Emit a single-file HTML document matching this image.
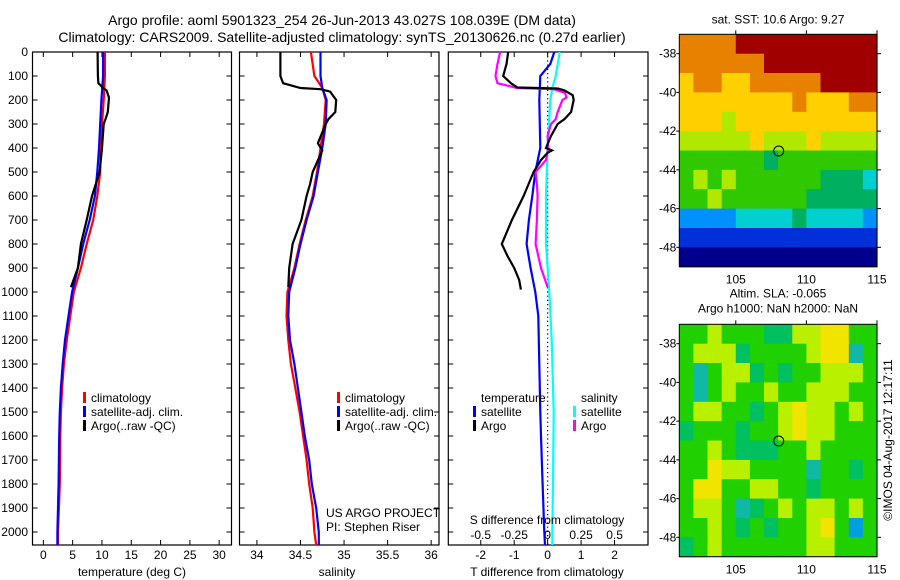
<!DOCTYPE html>
<html><head><meta charset="utf-8"><style>
body{margin:0;background:#fff;}
svg{display:block;font-family:"Liberation Sans",sans-serif;}
text{fill:#000;}
</style></head><body>
<svg id="fig" width="900" height="580" xmlns="http://www.w3.org/2000/svg">
<text x="342" y="25" font-size="14" text-anchor="middle">Argo profile: aoml 5901323_254 26-Jun-2013 43.027S 108.039E (DM data)</text>
<text x="342" y="42" font-size="14" text-anchor="middle">Climatology: CARS2009. Satellite-adjusted climatology: synTS_20130626.nc (0.27d earlier)</text>
</svg>
<script>
// ---- profile data ----
const tDepthClim = [0,100,200,300,400,500,600,700,800,900,1000,1100,1200,1300,1400,1500,1600,1800,2000,2054];
const tempClim   = [10.5,10.5,10.3,10.0,9.8,9.7,9.2,8.5,7.4,6.4,5.2,4.6,4.0,3.5,3.2,3.0,2.9,2.8,2.5,2.5];
const tempSat    = [10.2,10.2,9.9,9.7,9.5,9.2,8.8,7.9,6.8,5.9,4.9,4.3,3.7,3.3,3.0,2.8,2.7,2.6,2.4,2.4];
const argoDepth  = [0,100,130,150,160,190,250,280,300,400,500,600,700,800,900,980];
const tempArgo   = [9.25,9.3,9.4,10.2,10.8,11.2,11.0,10.6,10.3,10.0,9.6,8.3,7.4,6.4,5.9,4.7];
const sDepth     = [0,100,150,200,300,400,500,600,700,800,900,1000,1100,1200,1300,1400,1500,1600,1700,1800,1900,2000,2054];
const salClim    = [34.62,34.66,34.75,34.79,34.77,34.73,34.69,34.64,34.56,34.49,34.43,34.35,34.34,34.36,34.39,34.44,34.49,34.53,34.57,34.60,34.64,34.66,34.68];
const salSat     = [34.73,34.73,34.75,34.80,34.79,34.75,34.70,34.65,34.57,34.50,34.44,34.37,34.36,34.38,34.43,34.47,34.51,34.55,34.60,34.63,34.68,34.71,34.71];
const sArgoDepth = [0,100,130,150,155,165,200,250,280,300,380,410,500,550,600,700,800,900,980];
const salArgo    = [34.27,34.27,34.30,34.5,34.73,34.84,34.91,34.90,34.82,34.79,34.70,34.75,34.64,34.61,34.57,34.51,34.41,34.37,34.36];
// differences
const dSatDepth  = [0,50,100,200,400,500,600,700,800,900,1000,1100,1300,1500,1600,1800,2000,2054];
const dTSat      = [0.2,0.08,-0.22,-0.25,-0.22,-0.37,-0.46,-0.56,-0.63,-0.51,-0.37,-0.28,-0.25,-0.22,-0.2,-0.15,-0.1,-0.08];
const dSDepth    = [0,100,150,200,400,600,800,1000,1200,1500,1800,2000,2054];
const dSSat      = [0.09,0.06,0.035,0.02,0,-0.012,-0.012,0.012,0.03,0.045,0.04,0.035,0.035];
const dArgoDepthS= [0,50,100,130,150,155,170,190,200,250,280,300,350,400,450,500,550,600,700,800,850,900,980];
const dSArgo     = [-0.355,-0.375,-0.39,-0.375,-0.23,0.045,0.13,0.14,0.11,0.075,0.06,0.025,0,0.005,-0.012,-0.09,-0.08,-0.075,-0.08,-0.09,-0.07,-0.05,0];
const dArgoDepthT= [0,50,100,130,148,152,160,180,200,250,280,300,350,400,410,420,450,500,550,600,700,800,850,900,950,990];
const dTArgo     = [-1.18,-1.23,-1.33,-1.1,-0.9,0.3,0.5,0.75,0.78,0.7,0.5,0.3,0.1,-0.05,0.13,0.0,-0.2,-0.42,-0.57,-0.72,-1.07,-1.37,-1.2,-1.0,-0.85,-0.8];
// axis ticks
const depthTicks = [0,100,200,300,400,500,600,700,800,900,1000,1100,1200,1300,1400,1500,1600,1700,1800,1900,2000];
const tempTicks  = [0,5,10,15,20,25,30];
const salTicks   = [34,34.5,35,35.5,36];
const tdTicks    = [-2,-1,0,1,2];
const sdTicks    = [-0.5,-0.25,0,0.25,0.5];
const sdTickLabels = ["-0.5","-0.25","0","0.25","0.5"];
const lonTicks   = [105,110,115];
const latTicks   = [-38,-40,-42,-44,-46,-48];
// ---- map data (rows lat -37 .. -49, cols lon 101 .. 115, 1-degree cells, colour index 0-9) ----
const sstRows = [
"88889999999999",
"88888899999999",
"78877888889999",
"77777777877788",
"77767777777777",
"66666766676666",
"55555545555555",
"56565555554443",
"55655555544444",
"22223333433332",
"11111111111111",
"00000000000000"];
const slaRows = [
"55655544667755",
"56664555567735",
"53566454556665",
"53565565566655",
"56655456766565",
"45554556766555",
"55654445565555",
"55766555535545",
"57755665545555",
"56653456566565",
"55654545567525",
"45655555566555"];
const argoLon = 108.039, argoLat = -43.027;

const NS="http://www.w3.org/2000/svg";
const svg=document.getElementById('fig');
function el(tag,attrs,parent){const e=document.createElementNS(NS,tag);for(const k in attrs)e.setAttribute(k,attrs[k]);(parent||svg).appendChild(e);return e;}
function txt(x,y,s,attrs,parent){const e=el('text',Object.assign({x:x,y:y,'font-size':12},attrs||{}),parent);e.textContent=s;return e;}

const PT=52, PB=545;
const yD=d=>PT+d*0.24;
function panel(name,x0,x1,xmin,xmax){
  const g=el('g',{});
  
  
  const xs=v=>x0+(v-xmin)/(xmax-xmin)*(x1-x0);
  el('rect',{x:x0,y:PT,width:x1-x0,height:PB-PT,fill:'#fff',stroke:'#000','stroke-width':1.2},g);
  depthTicks.forEach(d=>{el('line',{x1:x0,x2:x0+5,y1:yD(d),y2:yD(d),stroke:'#000'},g);el('line',{x1:x1-5,x2:x1,y1:yD(d),y2:yD(d),stroke:'#000'},g);});
  return {g,xs,x0,x1};
}
function line(g,xs,vals,depths,color,name,w){
  const p=vals.map((v,i)=>xs(v).toFixed(1)+','+yD(depths[i]).toFixed(1)).join(' ');
  const e=el('polyline',{points:p,fill:'none',stroke:color,'stroke-width':w||2.2},g);
  
  
}
function legend(g,x,y,items){
  items.forEach((it,i)=>{el('rect',{x:x,y:y+i*14-10,width:3,height:11,fill:it[1]},g);txt(x+8,y+i*14,it[0],{},g);});
}

// Panel 1 temperature
const p1=panel('temperature-panel',32.5,231.5,-1.85,32.1);
depthTicks.forEach(d=>{const t=txt(28,yD(d)+4,String(d),{'text-anchor':'end'});});
tempTicks.forEach(v=>{const x=p1.xs(v);el('line',{x1:x,x2:x,y1:PB,y2:PB-5,stroke:'#000'},p1.g);el('line',{x1:x,x2:x,y1:PT,y2:PT+5,stroke:'#000'},p1.g);txt(x,559,String(v),{'text-anchor':'middle'},p1.g);});
txt(132,576,'temperature (deg C)',{'text-anchor':'middle',});
line(p1.g,p1.xs,tempClim,tDepthClim,'#f00','temp-climatology-line');
line(p1.g,p1.xs,tempSat,tDepthClim,'#00f','temp-satellite-line');
line(p1.g,p1.xs,tempArgo,argoDepth,'#000','temp-argo-line');
legend(p1.g,83,402,[['climatology','#f00'],['satellite-adj. clim.','#00f'],['Argo(..raw -QC)','#000']]);

// Panel 2 salinity
const p2=panel('salinity-panel',239.5,439,33.8,36.09);
salTicks.forEach(v=>{const x=p2.xs(v);el('line',{x1:x,x2:x,y1:PB,y2:PB-5,stroke:'#000'},p2.g);el('line',{x1:x,x2:x,y1:PT,y2:PT+5,stroke:'#000'},p2.g);txt(x,559,String(v),{'text-anchor':'middle'},p2.g);});
txt(337,576,'salinity',{'text-anchor':'middle',});
line(p2.g,p2.xs,salClim,sDepth,'#f00','sal-climatology-line');
line(p2.g,p2.xs,salSat,sDepth,'#00f','sal-satellite-line');
line(p2.g,p2.xs,salArgo,sArgoDepth,'#000','sal-argo-line');
legend(p2.g,337,402,[['climatology','#f00'],['satellite-adj. clim.','#00f'],['Argo(..raw -QC)','#000']]);
txt(326,517,'US ARGO PROJECT',{},p2.g);
txt(326,531,'PI: Stephen Riser',{},p2.g);

// Panel 3 differences
const p3=panel('difference-panel',448.3,648,-2.97,3.0);
const xsS=v=>p3.xs(v*4);
el('line',{x1:p3.xs(0),x2:p3.xs(0),y1:PT,y2:PB,stroke:'#000','stroke-dasharray':'1.2,3','stroke-width':1.2},p3.g);
tdTicks.forEach(v=>{const x=p3.xs(v);el('line',{x1:x,x2:x,y1:PB,y2:PB-5,stroke:'#000'},p3.g);el('line',{x1:x,x2:x,y1:PT,y2:PT+5,stroke:'#000'},p3.g);txt(x,559,String(v),{'text-anchor':'middle'},p3.g);});
sdTicks.forEach((v,i)=>{txt(xsS(v),539,sdTickLabels[i],{'text-anchor':'middle'},p3.g);});
txt(547,524,'S difference from climatology',{'text-anchor':'middle',});
txt(547,576,'T difference from climatology',{'text-anchor':'middle',});
line(p3.g,p3.xs,dTSat,dSatDepth,'#00f','dt-satellite-line');
line(p3.g,xsS,dSSat,dSDepth,'#0ff','ds-satellite-line');
line(p3.g,xsS,dSArgo,dArgoDepthS,'#f0f','ds-argo-line');
line(p3.g,p3.xs,dTArgo,dArgoDepthT,'#000','dt-argo-line');
txt(481,402,'temperature',{},p3.g);
txt(581,402,'salinity',{},p3.g);
legend(p3.g,473,416,[['satellite','#00f'],['Argo','#000']]);
legend(p3.g,573,416,[['satellite','#0ff'],['Argo','#f0f']]);

// Maps
const sstPal=['#00008c','#0030d8','#0090ff','#00d0d0','#00b060','#30c800','#b0e800','#ffd000','#e88000','#a00000'];
const slaPal=['#0000a0','#0040e0','#00a0e0','#10b8a8','#00c060','#20d000','#b8f000','#f0e400','#ffb800','#ff6000'];
function map(name,top,rows,pal,t1,t2){
  const g=el('g',{});
  
  
  const L=679.3,R=877,B=top+232.4;
  const xl=lon=>L+(lon-101)/14*(R-L);
  const yl=lat=>top+(-37-lat)/12*(B-top);
  rows.forEach((row,r)=>{for(let c=0;c<row.length;c++){
    const cell=el('rect',{x:xl(101+c).toFixed(1),y:yl(-37-r).toFixed(1),width:(xl(102)-xl(101)+0.6).toFixed(1),height:(yl(-38)-yl(-37)+0.6).toFixed(1),fill:pal[+row[c]]},g);
    
    
  }});
  el('rect',{x:L,y:top,width:R-L,height:B-top,fill:'none',stroke:'#000','stroke-width':1},g);
  lonTicks.forEach(v=>{el('line',{x1:xl(v),x2:xl(v),y1:top,y2:top-4,stroke:'#000'},g);txt(xl(v),B+17,String(v),{'text-anchor':'middle'},g);});
  latTicks.forEach(v=>{el('line',{x1:R,x2:R+4,y1:yl(v),y2:yl(v),stroke:'#000'},g);el('line',{x1:L,x2:L-3,y1:yl(v),y2:yl(v),stroke:'#000'},g);txt(L-3,yl(v)+4,String(v),{'text-anchor':'end'},g);});
  const c=el('circle',{cx:xl(argoLon),cy:yl(argoLat),r:5,fill:'none',stroke:'#000','stroke-width':1},g);
  
  
  if(t2){txt(778,top-27,t1,{'text-anchor':'middle'},g);txt(778,top-12,t2,{'text-anchor':'middle'},g);}
  else txt(778,top-11,t1,{'text-anchor':'middle'},g);
}
map('sst-map',34.3,sstRows,sstPal,'sat. SST: 10.6 Argo: 9.27');
map('sla-map',324.3,slaRows,slaPal,'Altim. SLA: -0.065','Argo h1000: NaN h2000: NaN');
txt(0,0,'©IMOS 04-Aug-2017 12:17:11',{'text-anchor':'middle',transform:'translate(892,440) rotate(-90)',});
</script>
</body></html>
